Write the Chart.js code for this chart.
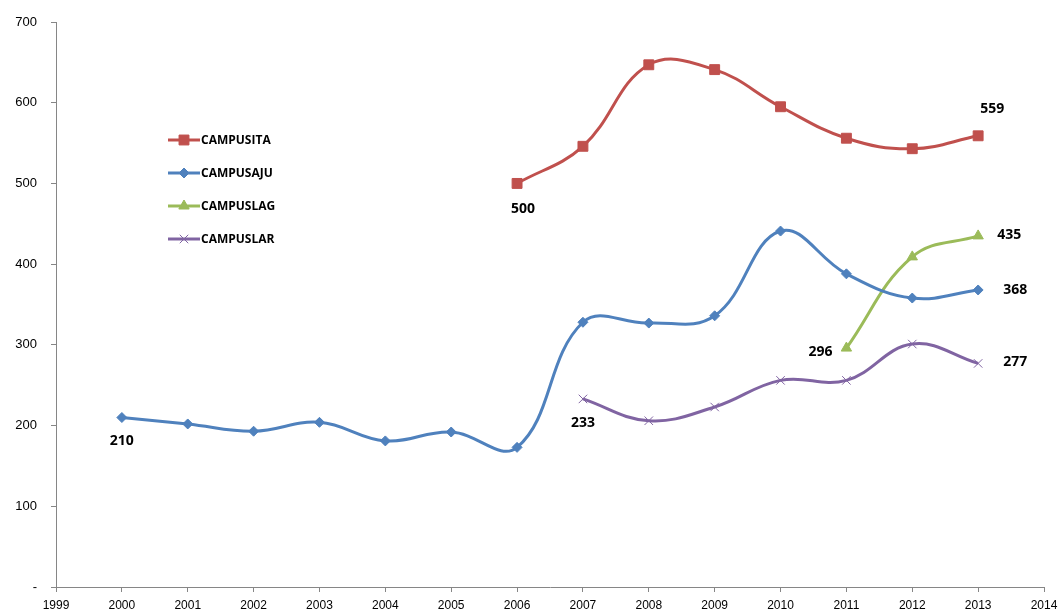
<!DOCTYPE html>
<html>
<head>
<meta charset="utf-8">
<script src="https://cdn.jsdelivr.net/npm/chart.js@4.4.1/dist/chart.umd.min.js"></script>
<style>
  html, body { margin: 0; padding: 0; background: #fff; }
  #box { width: 1059px; height: 612px; }
</style>
</head>
<body>
<div id="box"><canvas id="grafico"></canvas></div>
<script>
// ---- dados ----
var anos = [2000, 2001, 2002, 2003, 2004, 2005, 2006, 2007, 2008, 2009, 2010, 2011, 2012, 2013]
var campusIta = [null, null, null, null, null, null, 500, 546, 647, 641, 595, 556, 543, 559]
var campusAju = [210, 202, 193, 204, 181, 192, 173, 328, 327, 336, 441, 388, 358, 368]
var campusLag = [null, null, null, null, null, null, null, null, null, null, null, 296, 409, 435]
var campusLar = [null, null, null, null, null, null, null, 233, 206, 223, 256, 256, 301, 277]
var ticksY = [0, 100, 200, 300, 400, 500, 600, 700]

// rótulos: primeiro e último ponto de cada série, deslocamento em px
var rotulos = {
    CAMPUSITA: [{ i: 6, dx: 6, dy: 26 }, { i: 13, dx: 14, dy: -27 }],
    CAMPUSAJU: [{ i: 0, dx: 0, dy: 24 }, { i: 13, dx: 37, dy: 0 }],
    CAMPUSLAG: [{ i: 11, dx: -26, dy: 4 }, { i: 13, dx: 31, dy: -1 }],
    CAMPUSLAR: [{ i: 7, dx: 0, dy: 24 }, { i: 13, dx: 37, dy: -1 }]
}

function pontos(valores) {
    var arr = []
    for (var i = 0; i < anos.length; i++) {
        arr.push({ x: anos[i], y: valores[i] })
    }
    return arr
}

function serie(nome, valores, cor, estilo, raio) {
    return {
        label: nome,
        data: pontos(valores),
        borderColor: cor,
        backgroundColor: cor,
        pointBackgroundColor: cor,
        pointBorderColor: cor,
        pointStyle: estilo,
        pointRadius: raio,
        pointBorderWidth: 1,
        borderWidth: 3,
        tension: 0.4,
        spanGaps: false
    }
}

var fonteTick = "'Liberation Sans Narrow', 'Arial Narrow', 'Liberation Sans', sans-serif"
var fonteBold = "'Open Sans', 'Liberation Sans', sans-serif"

// rótulos de dados desenhados à mão
var pluginRotulos = {
    id: 'rotulos',
    afterDatasetsDraw: function(chart) {
        var ctx = chart.ctx
        ctx.save()
        ctx.fillStyle = '#000'
        ctx.font = 'bold 14px ' + fonteBold
        ctx.textAlign = 'center'
        ctx.textBaseline = 'middle'
        chart.data.datasets.forEach(function(ds, d) {
            var meta = chart.getDatasetMeta(d)
            var lista = rotulos[ds.label] || []
            lista.forEach(function(r) {
                var el = meta.data[r.i]
                ctx.fillText(String(ds.data[r.i].y), el.x + r.dx, el.y + r.dy)
            })
        })
        ctx.restore()
    }
}

// legenda dentro da área do gráfico
var pluginLegenda = {
    id: 'legendaInterna',
    afterDraw: function(chart) {
        var ctx = chart.ctx
        var x0 = 168, y0 = 140, passo = 33
        ctx.save()
        chart.data.datasets.forEach(function(ds, d) {
            var y = y0 + d * passo
            ctx.strokeStyle = ds.borderColor
            ctx.lineWidth = 3
            ctx.beginPath()
            ctx.moveTo(x0, y)
            ctx.lineTo(x0 + 32, y)
            ctx.stroke()
            // marcador com a cor da série
            ctx.fillStyle = ds.borderColor
            ctx.lineWidth = 1
            Chart.helpers.drawPoint(ctx, {
                pointStyle: ds.pointStyle,
                radius: ds.pointRadius,
                borderWidth: 1
            }, x0 + 16, y)
            ctx.fillStyle = '#000'
            ctx.font = 'bold 12px ' + fonteBold
            ctx.textAlign = 'left'
            ctx.textBaseline = 'middle'
            ctx.fillText(ds.label, x0 + 33, y + 1)
        })
        ctx.restore()
    }
}

var ctx = document.getElementById('grafico')

new Chart(ctx, {
    type: 'line',
    data: {
        datasets: [
            serie('CAMPUSITA', campusIta, '#C0504D', 'rect', 7),
            serie('CAMPUSAJU', campusAju, '#4F81BD', 'rectRot', 5),
            serie('CAMPUSLAG', campusLag, '#9BBB59', 'triangle', 6),
            serie('CAMPUSLAR', campusLar, '#8064A2', 'crossRot', 6)
        ]
    },
    options: {
        responsive: true,
        maintainAspectRatio: false,
        animation: false,
        layout: { padding: { top: 22, right: 15, left: 0, bottom: 0 } },
        plugins: {
            legend: { display: false },
            title: { display: false },
            tooltip: { enabled: false }
        },
        scales: {
            x: {
                type: 'linear',
                min: 1999,
                max: 2014,
                afterBuildTicks: function(scale) {
                    var t = []
                    for (var a = 1999; a <= 2014; a++) t.push({ value: a })
                    scale.ticks = t
                },
                ticks: {
                    color: '#000',
                    font: { size: 12, family: fonteTick },
                    maxRotation: 0,
                    autoSkip: false,
                    padding: 6,
                    callback: function(v) { return String(v) }
                },
                grid: { display: true, drawOnChartArea: false, drawTicks: true, tickLength: 5, color: '#868686' },
                border: { display: true, color: '#868686', width: 1 },
                afterFit: function(scale) {
                    scale.height = 25
                    scale.paddingLeft = 0
                    scale.paddingRight = 0
                }
            },
            y: {
                min: 0,
                max: 700,
                afterBuildTicks: function(scale) {
                    scale.ticks = ticksY.map(function(v) { return { value: v } })
                },
                ticks: {
                    color: '#000',
                    font: { size: 13, family: "'Liberation Sans', sans-serif" },
                    padding: 14,
                    callback: function(v) { return v === 0 ? '-' : String(v) }
                },
                grid: { display: true, drawOnChartArea: false, drawTicks: true, tickLength: 5, color: '#868686' },
                border: { display: true, color: '#868686', width: 1 },
                afterFit: function(scale) { scale.width = 56 }
            }
        }
    },
    plugins: [pluginRotulos, pluginLegenda]
})
</script>
</body>
</html>
